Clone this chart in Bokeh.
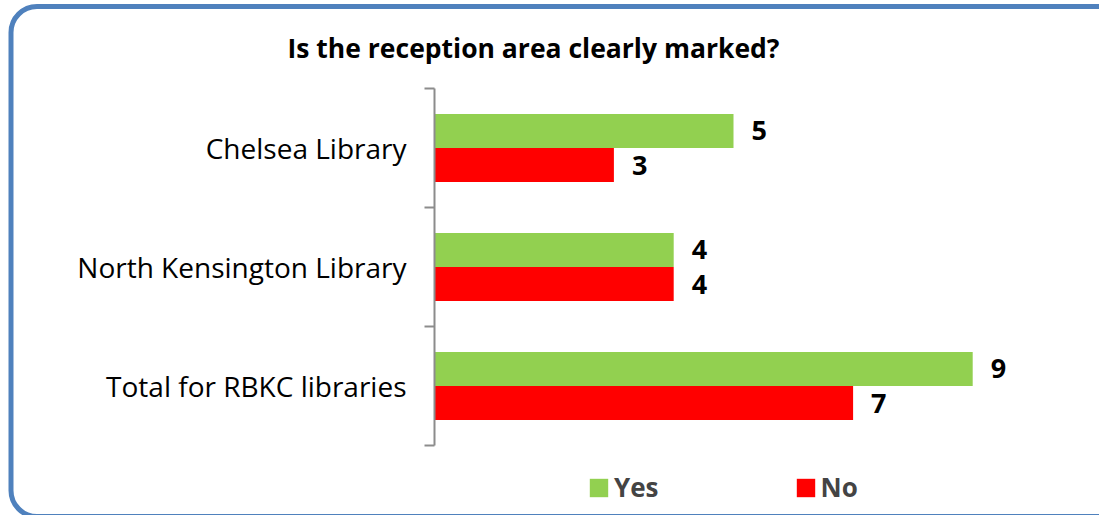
from bokeh.plotting import figure
from bokeh.models import (ColumnDataSource, BoxAnnotation, Label,
                          Legend, LegendItem, Range1d)
from bokeh.core.properties import value
from bokeh.embed import file_html
from bokeh.resources import INLINE

title = "Is the reception area clearly marked?"
categories = ["Chelsea Library", "North Kensington Library", "Total for RBKC libraries"]
yes_values = [5, 4, 9]
no_values = [3, 4, 7]
series_names = ["Yes", "No"]
colors = ["#92D050", "#FF0000"]

n = len(categories)
pos = [n - 0.5 - i for i in range(n)]      # first category at top
off = 0.143
bar_h = 0.286

# layout (pixels within the figure)
W, H = 1099, 515
x0_px, px_per_unit = 434, 59.8
y_top_px, y_bot_px = 88, 445
py_per_unit = (y_bot_px - y_top_px) / n

p = figure(width=W, height=H, output_backend="svg", toolbar_location=None,
           x_axis_location=None, y_axis_location=None,
           x_range=Range1d(-x0_px / px_per_unit, (W - x0_px) / px_per_unit),
           y_range=Range1d(-(H - y_bot_px) / py_per_unit, n + y_top_px / py_per_unit),
           min_border=0)
p.xgrid.visible = False
p.ygrid.visible = False
p.outline_line_color = None
p.background_fill_color = "white"
p.border_fill_color = "white"

src_yes = ColumnDataSource(dict(y=[q + off for q in pos], v=yes_values,
                                t=[str(v) for v in yes_values]))
src_no = ColumnDataSource(dict(y=[q - off for q in pos], v=no_values,
                               t=[str(v) for v in no_values]))

r_yes = p.hbar(y="y", left=0, right="v", height=bar_h, source=src_yes,
               fill_color=colors[0], line_color=None)
r_no = p.hbar(y="y", left=0, right="v", height=bar_h, source=src_no,
              fill_color=colors[1], line_color=None)

for s in (src_yes, src_no):
    p.text(x="v", y="y", text="t", source=s, x_offset=18, text_baseline="middle",
           text_align="left", text_font=value("Open Sans"), text_font_style="bold",
           text_font_size="27px", text_color="black")

# category axis: line, boundary ticks, labels
axis_color = "#8C8C8C"
tick_len = 10 / px_per_unit
bounds = list(range(n + 1))
p.segment(x0=[0], y0=[0], x1=[0], y1=[n], line_color=axis_color, line_width=2)
p.segment(x0=[0] * len(bounds), y0=bounds, x1=[-tick_len] * len(bounds), y1=bounds,
          line_color=axis_color, line_width=2)
p.text(x=[0] * n, y=pos, text=categories, x_offset=-28, text_align="right",
       text_baseline="middle", text_font=value("Open Sans"), text_font_size="28px",
       text_color="black")

legend = Legend(items=[LegendItem(label=series_names[0], renderers=[r_yes]),
                       LegendItem(label=series_names[1], renderers=[r_no])],
                orientation="horizontal", location=(587, 10),
                label_text_font="Open Sans", label_text_font_style="bold",
                label_text_font_size="26px", glyph_width=23, glyph_height=23,
                spacing=135, label_standoff=4, padding=0, margin=0,
                border_line_color=None, background_fill_alpha=0)
p.add_layout(legend, "center")

p.add_layout(Label(x=533, y=H - 47, x_units="screen", y_units="screen", text=title,
                   text_font="Open Sans", text_font_style="bold", text_font_size="26.5px",
                   text_align="center", text_baseline="middle", text_color="black"))

p.add_layout(BoxAnnotation(left=10.5, right=W + 40, top=H - 6, bottom=-1,
                           left_units="screen", right_units="screen",
                           top_units="screen", bottom_units="screen",
                           fill_alpha=0, line_color="#4F81BD", line_alpha=1,
                           line_width=5, border_radius=26))

open("out.html", "w").write(file_html(p, INLINE))
